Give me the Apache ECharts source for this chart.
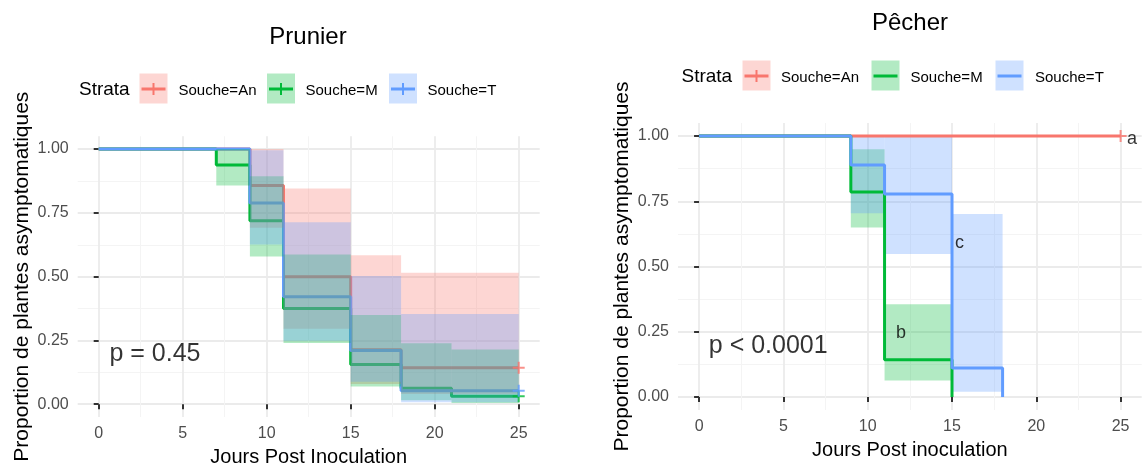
<!DOCTYPE html>
<html><head><meta charset="utf-8">
<script src="https://cdn.jsdelivr.net/npm/echarts@6/dist/echarts.min.js"></script>
<style>html,body{margin:0;padding:0;background:#fff;} #c{width:1142px;height:472px;}</style>
</head><body><div id="c"></div>
<script>
// ---------- data ----------
const strata = ['Souche=An', 'Souche=M', 'Souche=T'];
const plotTitles = ['Prunier', 'Pêcher'];
const xTitles = ['Jours Post Inoculation', 'Jours Post inoculation'];
const yTitle = 'Proportion de plantes asymptomatiques';
const xTicks = [0, 5, 10, 15, 20, 25];
const xMinor = [2.5, 7.5, 12.5, 17.5, 22.5];
const yTicks = [0, 0.25, 0.5, 0.75, 1];
const yMinor = [0.125, 0.375, 0.625, 0.875];

// Prunier : Kaplan-Meier steps (time, survival)
const prAnTime = [0, 9, 11, 15, 18, 25];
const prAnSurv = [1, 0.857, 0.5, 0.214, 0.143, 0.143];
const prMTime  = [0, 7, 9, 11, 15, 18, 21, 25];
const prMSurv  = [1, 0.938, 0.719, 0.375, 0.156, 0.0625, 0.031, 0.031];
const prTTime  = [0, 9, 11, 15, 18, 25];
const prTSurv  = [1, 0.789, 0.421, 0.211, 0.053, 0.053];
// Prunier : confidence bands [start, end, lower, upper]
const prAnBand = [[9, 11, 0.692, 1.0], [11, 15, 0.296, 0.845], [15, 18, 0.079, 0.584], [18, 25, 0.040, 0.515]];
const prMBand  = [[7, 9, 0.857, 1.0], [9, 11, 0.579, 0.893], [11, 15, 0.240, 0.587], [15, 18, 0.070, 0.350], [18, 21, 0.016, 0.239], [21, 25, 0.005, 0.215]];
const prTBand  = [[9, 11, 0.626, 0.995], [11, 15, 0.249, 0.713], [15, 18, 0.088, 0.503], [18, 25, 0.008, 0.354]];
// Prunier : censor marks [time, survival]
const prAnCens = [[25, 0.143]];
const prMCens  = [[25, 0.031]];
const prTCens  = [[25, 0.053]];

// Pêcher
const peAnTime = [0, 25];
const peAnSurv = [1, 1];
const peMTime  = [0, 9, 11, 15];
const peMSurv  = [1, 0.786, 0.143, 0];
const peTTime  = [0, 9, 11, 15, 18];
const peTSurv  = [1, 0.889, 0.778, 0.111, 0];
const peAnBand = [];
const peMBand  = [[9, 11, 0.649, 0.949], [11, 15, 0.063, 0.355]];
const peTBand  = [[9, 11, 0.704, 1.0], [11, 15, 0.548, 1.0], [15, 18, 0.020, 0.701]];
const peAnCens = [[25, 1]];

// annotations [x, y, text]
const prNotes = [[3.35, 0.195, 'p = 0.45']];
const peNotes = [[4.1, 0.193, 'p < 0.0001']];
const peLetters = [[25.67, 0.99, 'a'], [11.98, 0.244, 'b'], [15.45, 0.589, 'c']];

// ---------- styling ----------
const FONT = '"Liberation Sans", Arial, sans-serif';
const lineColors = ['#F8766D', '#00BA38', '#619CFF'];
const fillColors = ['rgba(248,118,109,0.3)', 'rgba(0,186,56,0.3)', 'rgba(97,156,255,0.3)'];
const PLUS = 'path://M5,0h2v12h-2z M0,5h12v2h-12z';

function axesFor(g, xName) {
  const xs = [
    { type: 'value', gridIndex: g, min: -1.25, max: 26.25,
      axisLine: { show: false },
      axisTick: { show: true, customValues: xTicks, length: 5, lineStyle: { color: '#333', width: 2 } },
      axisLabel: { customValues: xTicks, color: '#4D4D4D', fontSize: 16, margin: 9, fontFamily: FONT },
      splitLine: { show: true, lineStyle: { color: '#EBEBEB', width: 1.8 } },
      name: xName, nameLocation: 'middle', nameGap: 30,
      nameTextStyle: { color: '#000', fontSize: 20, fontFamily: FONT } },
    { type: 'value', gridIndex: g, min: -1.25, max: 26.25, position: 'bottom',
      axisLine: { show: false }, axisTick: { show: false, customValues: xMinor },
      axisLabel: { show: false, customValues: xMinor },
      splitLine: { show: true, lineStyle: { color: '#F4F4F4', width: 1 } } }
  ];
  const ys = [
    { type: 'value', gridIndex: g, min: -0.05, max: 1.05,
      axisLine: { show: false },
      axisTick: { show: true, customValues: yTicks, length: 5, lineStyle: { color: '#333', width: 2 } },
      axisLabel: { customValues: yTicks, color: '#4D4D4D', fontSize: 16, margin: 9, fontFamily: FONT,
                   formatter: v => Number(v).toFixed(2) },
      splitLine: { show: true, lineStyle: { color: '#EBEBEB', width: 1.8 } },
      name: yTitle, nameLocation: 'middle', nameGap: 45,
      nameTextStyle: { color: '#000', fontSize: 21, fontFamily: FONT } },
    { type: 'value', gridIndex: g, min: -0.05, max: 1.05, position: 'left',
      axisLine: { show: false }, axisTick: { show: false, customValues: yMinor },
      axisLabel: { show: false, customValues: yMinor },
      splitLine: { show: true, lineStyle: { color: '#F4F4F4', width: 1 } } }
  ];
  return { xs, ys };
}

function stepLine(g, i, times, surv, z) {
  return { type: 'line', name: strata[i], xAxisIndex: g * 2, yAxisIndex: g * 2, step: 'end',
    data: times.map((t, k) => [t, surv[k]]), showSymbol: false, silent: true, animation: false,
    lineStyle: { color: lineColors[i], width: 3 }, itemStyle: { color: lineColors[i] }, z };
}
function band(g, i, rows, z) {
  return { type: 'custom', xAxisIndex: g * 2, yAxisIndex: g * 2, data: rows, silent: true, animation: false,
    encode: { x: [0, 1], y: [2, 3] }, z,
    renderItem: (params, api) => {
      const p1 = api.coord([api.value(0), api.value(3)]);
      const p2 = api.coord([api.value(1), api.value(2)]);
      return { type: 'rect', shape: { x: p1[0], y: p1[1], width: p2[0] - p1[0], height: p2[1] - p1[1] },
               style: { fill: fillColors[i] } };
    } };
}
function cens(g, i, pts) {
  return { type: 'scatter', xAxisIndex: g * 2, yAxisIndex: g * 2, data: pts, symbol: PLUS, symbolSize: 12,
    itemStyle: { color: lineColors[i] }, silent: true, animation: false, z: 10 };
}
function notes(g, rows, size) {
  return { type: 'scatter', xAxisIndex: g * 2, yAxisIndex: g * 2, data: rows.map(r => [r[0], r[1], r[2]]),
    symbolSize: 1, itemStyle: { color: 'transparent' }, silent: true, animation: false, z: 11,
    label: { show: true, position: 'inside', formatter: p => p.data[2], color: '#000', fontSize: size, fontFamily: FONT } };
}

const a0 = axesFor(0, xTitles[0]);
const a1 = axesFor(1, xTitles[1]);

const series = [
  // Prunier: lines beneath bands
  stepLine(0, 0, prAnTime, prAnSurv, 2), stepLine(0, 1, prMTime, prMSurv, 2), stepLine(0, 2, prTTime, prTSurv, 2),
  band(0, 0, prAnBand, 3), band(0, 1, prMBand, 3), band(0, 2, prTBand, 3),
  cens(0, 0, prAnCens), cens(0, 1, prMCens), cens(0, 2, prTCens),
  notes(0, prNotes, 25),
  // Pêcher: bands beneath lines
  band(1, 0, peAnBand, 2), band(1, 1, peMBand, 2), band(1, 2, peTBand, 2),
  stepLine(1, 0, peAnTime, peAnSurv, 3), stepLine(1, 1, peMTime, peMSurv, 3), stepLine(1, 2, peTTime, peTSurv, 3),
  cens(1, 0, peAnCens),
  notes(1, peNotes, 25), notes(1, peLetters, 18)
];

// legend keys drawn as graphics
function legendGraphics(x0, yTop, boxXs, labelXs, withPlus) {
  const els = [{ type: 'text', style: { text: 'Strata', x: x0, y: yTop + 16.5, verticalAlign: 'middle',
    font: '19px ' + FONT, fill: '#000' } }];
  strata.forEach((s, i) => {
    const bx = boxXs[i];
    els.push({ type: 'rect', shape: { x: bx, y: yTop, width: 28, height: 30 }, style: { fill: fillColors[i] } });
    els.push({ type: 'line', shape: { x1: bx + 2, y1: yTop + 15.5, x2: bx + 26, y2: yTop + 15.5 },
               style: { stroke: lineColors[i], lineWidth: 3 } });
    if (withPlus[i]) {
      els.push({ type: 'line', shape: { x1: bx + 14, y1: yTop + 9.5, x2: bx + 14, y2: yTop + 21.5 },
                 style: { stroke: lineColors[i], lineWidth: 2 } });
    }
    els.push({ type: 'text', style: { text: s, x: labelXs[i], y: yTop + 17, verticalAlign: 'middle',
      font: '15px ' + FONT, fill: '#000' } });
  });
  return els;
}

const option = {
  animation: false,
  backgroundColor: '#fff',
  title: [
    { text: plotTitles[0], left: 308, top: 25, textAlign: 'center', padding: 0,
      textStyle: { fontSize: 24, fontWeight: 'normal', color: '#000', fontFamily: FONT } },
    { text: plotTitles[1], left: 910, top: 11, textAlign: 'center', padding: 0,
      textStyle: { fontSize: 24, fontWeight: 'normal', color: '#000', fontFamily: FONT } }
  ],
  grid: [
    { left: 77.7, top: 136.3, width: 462, height: 286 },
    { left: 678, top: 123, width: 463.7, height: 287 }
  ],
  xAxis: [...a0.xs, ...a1.xs],
  yAxis: [...a0.ys, ...a1.ys],
  series,
  graphic: [
    ...legendGraphics(79, 73.5, [139.5, 267, 389], [178.5, 305.5, 427.5], [true, true, true]),
    ...legendGraphics(681.5, 60.5, [742.5, 871.5, 995.5], [781, 910.5, 1035], [true, false, false])
  ]
};

const chart = echarts.init(document.getElementById('c'), null, { renderer: 'canvas' });
chart.setOption(option);
</script>
</body></html>
